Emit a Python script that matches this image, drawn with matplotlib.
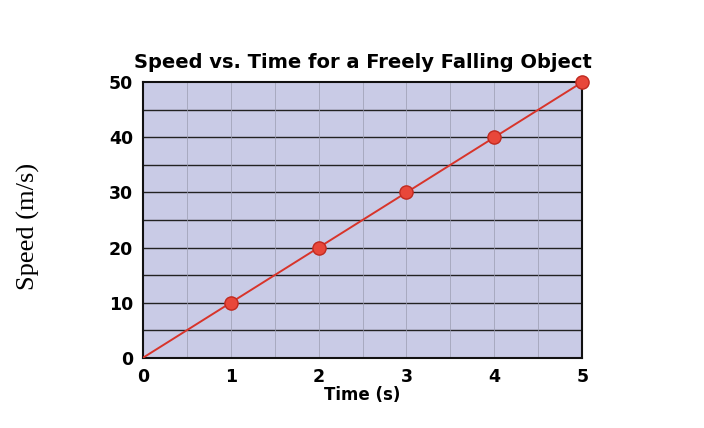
import matplotlib.pyplot as plt
import numpy as np

# data
time_s = [0, 1, 2, 3, 4, 5]
speed_ms = [0, 10, 20, 30, 40, 50]
x_ticks = [0, 1, 2, 3, 4, 5]
y_ticks = [0, 10, 20, 30, 40, 50]

fig = plt.figure(figsize=(7.04, 4.28), dpi=100)
ax = fig.add_axes([0.203, 0.164, 0.624, 0.644])
ax.set_facecolor('#c9cbe6')

# grid: dark lines every 5 m/s, faint lines every half second
for y in np.arange(5, 50, 5):
    ax.axhline(y, color='#222222', lw=1.0, zorder=1)
for x in np.arange(0.5, 5, 0.5):
    ax.axvline(x, color='#9a9cb0', lw=0.5, zorder=1)

ax.plot(time_s, speed_ms, color='#d8342a', lw=1.4, zorder=3)
ax.plot(time_s[1:], speed_ms[1:], 'o', color='#e8473a', markeredgecolor='#c02a20',
        markersize=9.5, zorder=4, clip_on=False)

ax.set_xlim(0, 5)
ax.set_ylim(0, 50)
ax.set_xticks(x_ticks)
ax.set_yticks(y_ticks)
ax.tick_params(length=0, labelsize=12.5, pad=7)
for lab in ax.get_xticklabels() + ax.get_yticklabels():
    lab.set_fontweight('bold')
for s in ax.spines.values():
    s.set_linewidth(1.5)
    s.set_color('#111111')

ax.set_xlabel('Time (s)', fontsize=12, fontweight='bold', labelpad=0)
ax.set_title('Speed vs. Time for a Freely Falling Object', fontsize=14,
             fontweight='bold', pad=10)
fig.text(0.04, 0.47, 'Speed (m/s)', rotation=90, va='center', ha='center',
         fontsize=19, family='Liberation Serif')

fig.savefig('out.png', dpi=100)
